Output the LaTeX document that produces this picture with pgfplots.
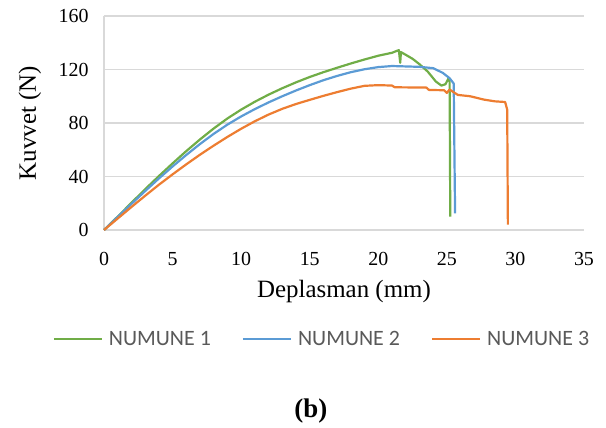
\documentclass[border=0pt]{standalone}
\usepackage{pgfplots}
\pgfplotsset{compat=1.18}
\usepackage{fontspec}
\setmainfont{Liberation Serif}
\newfontfamily\legfont{Carlito}
\definecolor{gr}{HTML}{70AD47}
\definecolor{bl}{HTML}{5B9BD5}
\definecolor{or}{HTML}{ED7D31}
\definecolor{gridc}{HTML}{D9D9D9}
\definecolor{legtxt}{HTML}{595959}
\pgfplotsset{
  excel line/.style={line width=2.2bp, line join=round, no marks},
  legend image code/.code={\draw[#1] (0bp,0bp) -- (48bp,0bp);},
}
\begin{document}
\begin{tikzpicture}
\begin{axis}[
  scale only axis,
  width=480bp, height=214bp,
  xmin=0, xmax=35, ymin=0, ymax=160,
  xtick={0,5,...,35}, ytick={0,40,...,160},
  axis x line*=bottom, axis y line*=left,
  axis line style={draw=gridc, line width=1.2bp, -},
  ymajorgrids, grid style={draw=gridc, line width=1.2bp},
  major tick length=0pt,
  /pgf/number format/assume math mode=true,
  tick label style={font=\fontsize{20}{24}\selectfont},
  xticklabel style={yshift=-19bp},
  yticklabel style={xshift=-12bp},
  xlabel={Deplasman (mm)}, ylabel={Kuvvet (N)},
  label style={font=\fontsize{25}{28}\selectfont},
  xlabel style={at={([yshift=-62bp]axis description cs:0.5,0)}, anchor=center},
  ylabel style={at={([xshift=-74bp]axis description cs:0,0.5)}, anchor=center},
  legend columns=3,
  legend cell align=left,
  legend style={at={(rel axis cs:0.455,-0.51)}, anchor=center, draw=none, fill=none,
    font=\legfont\fontsize{22}{24}\selectfont, text=legtxt, inner sep=0pt,
    nodes={inner sep=3bp},
    /tikz/every odd column/.append style={column sep=3bp},
    /tikz/every even column/.append style={column sep=28bp}},
  clip=false,
]
% NUMUNE 1
\addplot[excel line, gr] coordinates {
(0,0) (1,10) (2,20.3) (3,30.5) (4,40.3) (5,49.8) (6,59) (7,67.7) (8,75.9) (9,83.4)
(10,90) (11,95.9) (12,101.2) (13,106) (14,110.4) (15,114.4) (16,118) (17,121.3)
(18,124.5) (19,127.5) (20,130.3) (21,132.5) (21.5,134.5) (21.6,125) (21.65,133)
(22,131) (22.5,128) (23,124) (23.6,118.5) (24.2,111) (24.6,108) (24.9,109)
(25.1,113) (25.2,111) (25.25,10)
};
\addlegendentry{NUMUNE 1}
% NUMUNE 2
\addplot[excel line, bl] coordinates {
(0,0) (1,9.8) (2,19.5) (3,29.1) (4,38.5) (5,47.5) (6,56.1) (7,64.3) (8,71.9) (9,78.8)
(10,84.9) (11,90.4) (12,95.4) (13,100) (14,104.3) (15,108.3) (16,112) (17,115.2)
(18,118) (19,120.2) (20,121.8) (21,122.6) (22,122.3) (23,122) (24,121)
(24.7,117.5) (25.2,113.5) (25.5,109.5) (25.55,60) (25.6,12.5)
};
\addlegendentry{NUMUNE 2}
% NUMUNE 3
\addplot[excel line, or] coordinates {
(0,0) (1,8.6) (2,17.2) (3,25.6) (4,33.8) (5,41.6) (6,49.1) (7,56.3) (8,63.1) (9,69.6)
(10,75.7) (11,81.3) (12,86.3) (13,90.6) (14,94.2) (15,97.3) (16,100.3) (17,103.1)
(18,105.7) (19,107.8) (20,108.3) (21,108) (21.2,106.7) (23.5,106.5) (23.7,104.7)
(24.8,104.5) (25.0,102.5) (25.2,105) (25.5,103) (25.8,101) (26.7,100)
(27.7,97.5) (28.5,96.2) (29.25,95.7) (29.4,90) (29.45,4)
};
\addlegendentry{NUMUNE 3}
\coordinate (O) at (rel axis cs:0,0);
\node[font=\bfseries\fontsize{27}{30}\selectfont] at (rel axis cs:0.431,-0.848) {(b)};
\end{axis}
\pgfresetboundingbox
\path[use as bounding box] ([xshift=-104bp,yshift=-198bp]O) rectangle ++(606bp,428bp);
\end{tikzpicture}
\end{document}
